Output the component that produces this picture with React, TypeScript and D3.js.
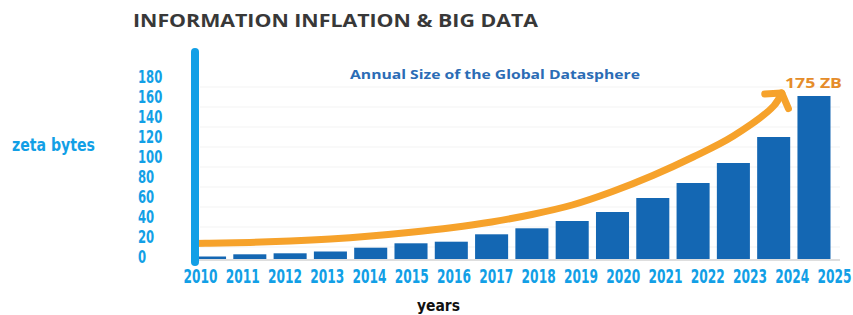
import React from "react";
import * as d3 from "d3";

// ---- data ----
const years = ["2010","2011","2012","2013","2014","2015","2016","2017","2018","2019","2020","2021","2022","2023","2024","2025"];
const barValues = [2.5, 4.7, 5.7, 7.5, 11.3, 15.7, 17.3, 24.7, 30.7, 38, 47, 61, 76, 96, 122, 163];
const trendYears = [2009.64, 2010, 2011, 2012, 2013, 2014, 2015, 2016, 2017, 2018, 2019, 2020, 2021, 2022, 2023, 2024, 2024.2];
const trendValues = [15.5, 15.7, 16.5, 17.9, 20, 23, 26.8, 31.3, 37, 44.5, 54, 67.5, 83.5, 102, 123, 153, 166];
const yTicks = [0, 20, 40, 60, 80, 100, 120, 140, 160, 180];

const title = "INFORMATION INFLATION & BIG DATA";
const subtitle = "Annual Size of the Global Datasphere";
const endLabel = "175 ZB";
const yLabel = "zeta bytes";
const xLabel = "years";

const W = 853;
const H = 315;

export default function App() {
  const y = d3.scaleLinear().domain([0, 180]).range([259, 79]);
  const xb = d3.scaleBand<string>().domain(years).range([193, 830.5]).paddingInner(0.18);
  const bw = xb.bandwidth();
  const xt = d3
    .scaleLinear()
    .domain([2010, 2025])
    .range([(xb("2010") as number) + bw / 2, (xb("2025") as number) + bw / 2]);
  const xl = d3.scalePoint<string>().domain(years).range([200.5, 834.5]);

  const pts: [number, number][] = trendYears.map((yr, i) => [xt(yr), y(trendValues[i])]);
  const line = d3.line().curve(d3.curveCatmullRom.alpha(0.5));
  const pathD = line(pts) || "";

  const tip = pts[pts.length - 1];
  const prev = pts[pts.length - 2];
  const ang = Math.atan2(prev[1] - tip[1], prev[0] - tip[0]);
  const aLen = 17;
  const spread = (55 * Math.PI) / 180;
  const a1: [number, number] = [tip[0] + aLen * Math.cos(ang - spread), tip[1] + aLen * Math.sin(ang - spread)];
  const a2: [number, number] = [tip[0] + aLen * Math.cos(ang + spread), tip[1] + aLen * Math.sin(ang + spread)];
  const arrowD = d3.line()([a1, tip, a2]) || "";

  const cond = "'DejaVu Sans Condensed', 'DejaVu Sans', sans-serif";
  const axisBlue = "#129fe6";

  return (
    <svg width={W} height={H} style={{ position: "absolute", left: 0, top: 0, background: "#fff" }}>
      <text x={133} y={27} fontFamily="'Open Sans', sans-serif" fontWeight={700} fontSize={18.5}
        fill="#383838" textLength={405} lengthAdjust="spacingAndGlyphs">{title}</text>

      {/* faint gridlines */}
      {yTicks.slice(1).map((t) => (
        <line key={t} x1={200} x2={840} y1={y(t) + 8} y2={y(t) + 8} stroke="#f3f3f3" strokeWidth={1} />
      ))}

      <text x={350} y={79} fontFamily="'Open Sans', sans-serif" fontWeight={700} fontSize={12}
        fill="#2b6cb5" textLength={290} lengthAdjust="spacingAndGlyphs">{subtitle}</text>

      {/* baseline */}
      <line x1={195} x2={840} y1={260} y2={260} stroke="#dedede" strokeWidth={2} />

      {/* bars */}
      {barValues.map((v, i) => (
        <rect key={years[i]} x={xb(years[i])} y={y(v)} width={bw} height={y(0) - y(v)} fill="#1467b3" />
      ))}

      {/* trend arrow */}
      <path d={pathD} fill="none" stroke="#f6a22b" strokeWidth={7} strokeLinecap="round" />
      <path d={arrowD} fill="none" stroke="#f6a22b" strokeWidth={7} strokeLinecap="round" strokeLinejoin="round" />

      <text x={785} y={88} fontFamily="'Open Sans', sans-serif" fontWeight={700} fontSize={15}
        fill="#e58c2a" textLength={57} lengthAdjust="spacingAndGlyphs">{endLabel}</text>

      {/* y axis line */}
      <line x1={195} x2={195} y1={52} y2={262} stroke={axisBlue} strokeWidth={8} strokeLinecap="round" />

      {/* y tick labels */}
      {yTicks.map((t) => (
        <g key={t} transform={`translate(138,${y(t) - 2}) scale(0.72,1)`}>
          <text x={0} y={0} dy="0.36em" fontFamily={cond} fontWeight={700} fontSize={18} fill={axisBlue}>{t}</text>
        </g>
      ))}

      {/* x tick labels */}
      {years.map((yr) => (
        <g key={yr} transform={`translate(${xl(yr)},276) scale(0.68,1)`}>
          <text x={0} y={0} dy="0.36em" textAnchor="middle" fontFamily={cond} fontWeight={700}
            fontSize={20} fill={axisBlue}>{yr}</text>
        </g>
      ))}

      <text x={12} y={151} fontFamily={cond} fontWeight={700}
        fontSize={17} fill={axisBlue} textLength={83} lengthAdjust="spacingAndGlyphs">{yLabel}</text>
      <text x={417} y={311} fontFamily={cond} fontWeight={700}
        fontSize={16} fill="#111" textLength={43} lengthAdjust="spacingAndGlyphs">{xLabel}</text>
    </svg>
  );
}
